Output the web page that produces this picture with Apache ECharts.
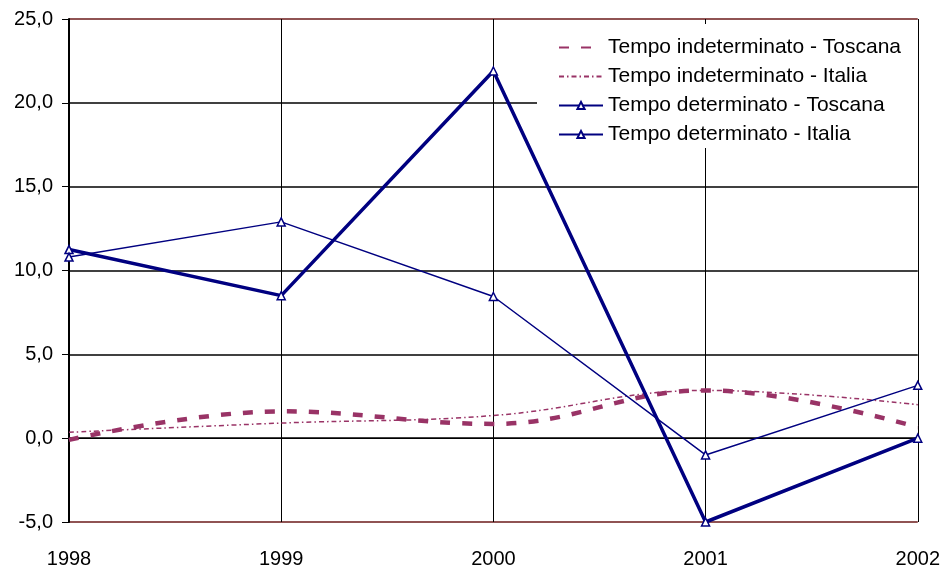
<!DOCTYPE html>
<html><head><meta charset="utf-8">
<script src="https://cdn.jsdelivr.net/npm/echarts@6/dist/echarts.min.js"></script>
<style>html,body{margin:0;padding:0;background:#fff}#c{width:943px;height:569px}</style>
</head><body><div id="c"></div>
<script>
const years = ['1998','1999','2000','2001','2002'];
const indToscana = [-0.1, 1.6, 0.85, 2.85, 0.65];
const indItalia = [0.35, 0.9, 1.35, 2.85, 2.0];
const detToscana = [11.25, 8.5, 21.9, -5.0, 0.0];
const detItalia = [10.8, 12.9, 8.45, -1.0, 3.15];
const names = ['Tempo indeterminato - Toscana','Tempo indeterminato - Italia','Tempo determinato - Toscana','Tempo determinato - Italia'];

const chart = echarts.init(document.getElementById('c'));
const font = 'Liberation Sans, Arial, sans-serif';
chart.setOption({
  animation: false,
  backgroundColor: '#fff',
  grid: {left: 69, right: 25, top: 19, bottom: 46},
  legend: {
    orient: 'vertical', left: 537, top: 24, padding: [13, 17, 3, 21],
    backgroundColor: '#fff', itemWidth: 44, itemHeight: 9, itemGap: 8,
    textStyle: {fontFamily: font, fontSize: 21, color: '#000'},
    data: names
  },
  xAxis: {
    type: 'category', data: years, boundaryGap: false,
    axisLine: {lineStyle: {color: '#000', width: 1}},
    axisTick: {show: true, length: 7, lineStyle: {color: '#000'}},
    axisLabel: {fontFamily: font, fontSize: 20, color: '#000', margin: 27},
    splitLine: {show: true, lineStyle: {color: '#000', width: 1}}
  },
  yAxis: {
    type: 'value', min: -5, max: 25, interval: 5,
    axisLine: {show: true, lineStyle: {color: '#000', width: 2}},
    axisTick: {show: true, length: 7, lineStyle: {color: '#000'}},
    axisLabel: {fontFamily: font, fontSize: 20, color: '#000', margin: 16,
      formatter: v => v.toFixed(1).replace('.', ',')},
    splitLine: {show: true, lineStyle: {color: ['#6b1a1a','#000','#000','#000','#000','#000','#6b1a1a'], width: 1.5}}
  },
  series: [
    {name: names[0], type: 'line', data: indToscana, smooth: 0.4, symbol: 'none',
      lineStyle: {color: '#993366', width: 4.5, type: [10, 12]}, itemStyle: {color: 'rgba(0,0,0,0)', borderWidth: 0}},
    {name: names[1], type: 'line', data: indItalia, smooth: 0.4, symbol: 'none',
      lineStyle: {color: '#993366', width: 1.5, type: [5, 3, 1.5, 3]}, itemStyle: {color: 'rgba(0,0,0,0)', borderWidth: 0}},
    {name: names[2], type: 'line', data: detToscana, symbol: 'triangle', symbolSize: 8,
      lineStyle: {color: '#000080', width: 3.5}, itemStyle: {color: '#fff', borderColor: '#000080', borderWidth: 1.5}},
    {name: names[3], type: 'line', data: detItalia, symbol: 'triangle', symbolSize: 8,
      lineStyle: {color: '#000080', width: 1.5}, itemStyle: {color: '#fff', borderColor: '#000080', borderWidth: 1.5}}
  ]
});
</script></body></html>
